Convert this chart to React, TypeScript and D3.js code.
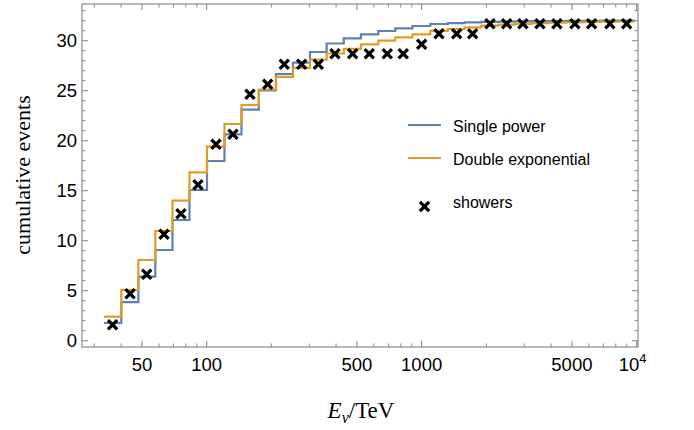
import React from "react";
import * as d3 from "d3";

// bin centres (TeV)
const binCenters = [36.5, 44.0, 52.6, 63.3, 75.9, 91.1, 110.5, 132.5, 159.0, 192.2, 229.6, 276.6, 330.5, 395.1, 477.5, 570.5, 691.8, 821.2, 1000, 1204, 1455, 1727, 2079, 2485, 2959, 3550, 4259, 5164, 6177, 7511, 8985];

const singlePower = [1.77, 3.85, 6.4, 9.07, 12.07, 15.07, 17.97, 20.64, 23.1, 25.03, 26.67, 27.8, 28.87, 29.72, 30.24, 30.64, 30.97, 31.24, 31.47, 31.67, 31.76, 31.83, 31.88, 31.91, 31.94, 31.96, 31.97, 31.98, 31.99, 32.0, 32.0];

const doubleExp = [2.4, 5.07, 8.07, 10.97, 14.0, 16.84, 19.4, 21.67, 23.57, 25.12, 26.38, 27.27, 28.1, 28.72, 29.18, 29.64, 30.0, 30.34, 30.64, 30.98, 31.17, 31.34, 31.5, 31.6, 31.68, 31.75, 31.8, 31.84, 31.87, 31.9, 31.92];

const showers = [1.6, 4.7, 6.65, 10.65, 12.7, 15.6, 19.65, 20.65, 24.65, 25.65, 27.65, 27.65, 27.65, 28.7, 28.7, 28.7, 28.7, 28.7, 29.65, 30.7, 30.7, 30.7, 31.7, 31.7, 31.7, 31.7, 31.7, 31.7, 31.7, 31.7, 31.7];

const xMajorTicks = [50, 100, 500, 1000, 5000, 10000];
const xMinorTicks = [30, 40, 60, 70, 80, 90, 200, 300, 400, 600, 700, 800, 900, 2000, 3000, 4000, 6000, 7000, 8000, 9000];
const yMajorTicks = [0, 5, 10, 15, 20, 25, 30];
const yMinorTicks = [1, 2, 3, 4, 6, 7, 8, 9, 11, 12, 13, 14, 16, 17, 18, 19, 21, 22, 23, 24, 26, 27, 28, 29, 31, 32, 33];

const legendItems = ["Single power", "Double exponential", "showers"];

const BLUE = "#5e81b5";
const ORANGE = "#e19c24";
const FRAME = "#8a8a8a";

export default function App() {
  const W = 694, H = 430;
  const left = 82, right = 638, top = 4, bottom = 347;

  const x = d3.scaleLog().domain([26.3, 10150]).range([left, right]);
  const y = d3.scaleLinear().domain([-0.63, 33.67]).range([bottom, top]);

  // bin edges: geometric midpoints between centres
  const n = binCenters.length;
  const edges: number[] = [];
  edges.push(binCenters[0] / Math.sqrt(binCenters[1] / binCenters[0]));
  for (let i = 0; i < n - 1; i++) edges.push(Math.sqrt(binCenters[i] * binCenters[i + 1]));
  edges.push(binCenters[n - 1] * Math.sqrt(binCenters[n - 1] / binCenters[n - 2]));

  const stepLine = d3
    .line<[number, number]>()
    .x((d) => x(d[0]))
    .y((d) => y(d[1]))
    .curve(d3.curveStepAfter);

  const stepPts = (vals: number[]) => {
    const pts: [number, number][] = vals.map((v, i) => [edges[i], v]);
    pts.push([edges[n], vals[n - 1]]);
    return pts;
  };

  const cross = (cx: number, cy: number, key: string) => {
    const s = 4.6;
    return (
      <path
        key={key}
        d={`M${cx - s},${cy - s}L${cx + s},${cy + s}M${cx - s},${cy + s}L${cx + s},${cy - s}`}
        stroke="#000"
        strokeWidth={3.3}
        fill="none"
      />
    );
  };

  const sans = "'Liberation Sans', Arial, sans-serif";
  const serif = "'Liberation Serif', 'Times New Roman', serif";
  const majLen = 6, minLen = 3.5;

  return (
    <svg width={W} height={H} style={{ position: "absolute", left: 0, top: 0, background: "#fff" }}>
      <rect x={0} y={0} width={W} height={H} fill="#fff" />
      {/* data */}
      <path d={stepLine(stepPts(singlePower)) || ""} fill="none" stroke={BLUE} strokeWidth={2.2} />
      <path d={stepLine(stepPts(doubleExp)) || ""} fill="none" stroke={ORANGE} strokeWidth={2.2} />
      {showers.map((v, i) => cross(x(binCenters[i]), y(v), "c" + i))}

      {/* frame */}
      <rect x={left} y={top} width={right - left} height={bottom - top} fill="none" stroke={FRAME} strokeWidth={1.2} />
      {xMajorTicks.map((t) => (
        <g key={"xM" + t}>
          <line x1={x(t)} x2={x(t)} y1={bottom} y2={bottom - majLen} stroke={FRAME} strokeWidth={1.1} />
          <line x1={x(t)} x2={x(t)} y1={top} y2={top + majLen} stroke={FRAME} strokeWidth={1.1} />
        </g>
      ))}
      {xMinorTicks.map((t) => (
        <g key={"xm" + t}>
          <line x1={x(t)} x2={x(t)} y1={bottom} y2={bottom - minLen} stroke={FRAME} strokeWidth={1} />
          <line x1={x(t)} x2={x(t)} y1={top} y2={top + minLen} stroke={FRAME} strokeWidth={1} />
        </g>
      ))}
      {yMajorTicks.map((t) => (
        <g key={"yM" + t}>
          <line x1={left} x2={left + majLen} y1={y(t)} y2={y(t)} stroke={FRAME} strokeWidth={1.1} />
          <line x1={right} x2={right - majLen} y1={y(t)} y2={y(t)} stroke={FRAME} strokeWidth={1.1} />
        </g>
      ))}
      {yMinorTicks.map((t) => (
        <g key={"ym" + t}>
          <line x1={left} x2={left + minLen} y1={y(t)} y2={y(t)} stroke={FRAME} strokeWidth={1} />
          <line x1={right} x2={right - minLen} y1={y(t)} y2={y(t)} stroke={FRAME} strokeWidth={1} />
        </g>
      ))}

      {/* tick labels */}
      {yMajorTicks.map((t) => (
        <text key={"yl" + t} x={left - 5} y={y(t) + 6.6} textAnchor="end" fontFamily={sans} fontSize={18.5} fill="#000">
          {t}
        </text>
      ))}
      {xMajorTicks.map((t) =>
        t === 10000 ? (
          <text key={"xl" + t} x={x(t) - 4} y={371} textAnchor="middle" fontFamily={sans} fontSize={18.5} fill="#000">
            10
            <tspan fontSize={13} dy={-8}>4</tspan>
          </text>
        ) : (
          <text key={"xl" + t} x={x(t)} y={371} textAnchor="middle" fontFamily={sans} fontSize={18.5} fill="#000">
            {t}
          </text>
        )
      )}

      {/* axis labels */}
      <text x={361} y={418} textAnchor="middle" fontFamily={serif} fontSize={23} fill="#000">
        <tspan fontStyle="italic">E</tspan>
        <tspan fontStyle="italic" fontSize={16} dy={5}>ν</tspan>
        <tspan dy={-5}>/TeV</tspan>
      </text>
      <text
        transform={`translate(30,175) rotate(-90)`}
        textAnchor="middle"
        fontFamily={serif}
        fontSize={22}
        fill="#000"
      >
        cumulative events
      </text>

      {/* legend */}
      <line x1={408} x2={441} y1={125} y2={125} stroke={BLUE} strokeWidth={2.2} />
      <text x={453} y={131.5} fontFamily={sans} fontSize={16} fill="#000">{legendItems[0]}</text>
      <line x1={408} x2={441} y1={158} y2={158} stroke={ORANGE} strokeWidth={2.2} />
      <text x={453} y={164.5} fontFamily={sans} fontSize={16} fill="#000">{legendItems[1]}</text>
      {cross(424.5, 206.5, "leg")}
      <text x={453} y={208} fontFamily={sans} fontSize={16} fill="#000">{legendItems[2]}</text>
    </svg>
  );
}
